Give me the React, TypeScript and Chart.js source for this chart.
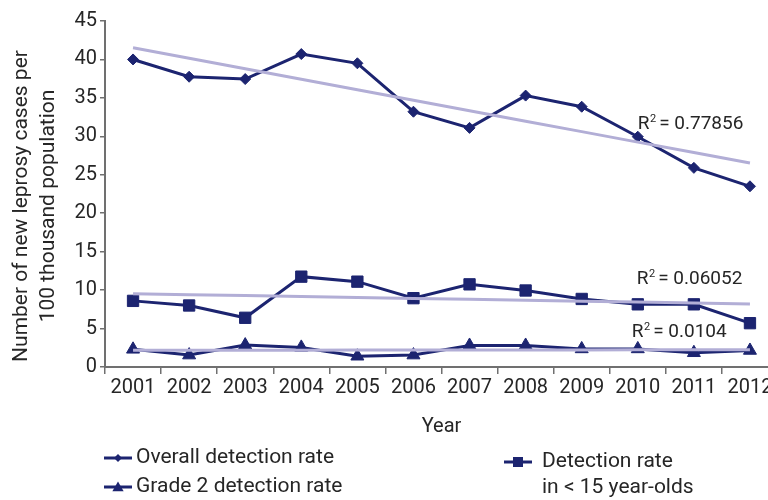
import React, { useEffect, useRef } from 'react';
import { Chart, registerables } from 'chart.js';

Chart.register(...registerables);

// Leprosy detection rates per 100 thousand population, 2001–2012
const years = ['2001', '2002', '2003', '2004', '2005', '2006', '2007', '2008', '2009', '2010', '2011', '2012'];
const overallRate = [40.0, 37.75, 37.45, 40.7, 39.5, 33.2, 31.1, 35.3, 33.85, 29.95, 25.9, 23.5];
const under15Rate = [8.6, 8.0, 6.4, 11.75, 11.1, 8.95, 10.75, 9.95, 8.85, 8.15, 8.15, 5.7];
const grade2Rate = [2.3, 1.55, 2.85, 2.55, 1.4, 1.55, 2.8, 2.8, 2.35, 2.35, 1.85, 2.15];

const yAxisMin = 0;
const yAxisMax = 45;
const yAxisStep = 5;

const yTitleLines = ['Number of new leprosy cases per', '100 thousand population'];
const xTitle = 'Year';
const rSquaredValues = ['0.77856', '0.06052', '0.0104'];

const NAVY = '#1c2470';
const LAVENDER = '#b2aed6';
const TEXT = '#262626';
const AXIS = '#707070';
const FONT = 'Roboto, "Noto Sans", sans-serif';

// Ordinary least-squares fit over the category index
function linearTrend(values: number[]): number[] {
  const n = values.length;
  const mx = (n - 1) / 2;
  const my = values.reduce((a, b) => a + b, 0) / n;
  let sxy = 0;
  let sxx = 0;
  values.forEach((v, i) => {
    sxy += (i - mx) * (v - my);
    sxx += (i - mx) * (i - mx);
  });
  const slope = sxy / sxx;
  return values.map((_, i) => my + slope * (i - mx));
}

function drawMarker(ctx: CanvasRenderingContext2D, style: string, x: number, y: number, r: number) {
  ctx.beginPath();
  if (style === 'rectRot') {
    ctx.moveTo(x - r, y);
    ctx.lineTo(x, y - r);
    ctx.lineTo(x + r, y);
    ctx.lineTo(x, y + r);
  } else if (style === 'triangle') {
    for (let k = 0; k < 3; k++) {
      const a = (k * 2 * Math.PI) / 3;
      const px = x + Math.sin(a) * r;
      const py = y - Math.cos(a) * r;
      if (k === 0) ctx.moveTo(px, py);
      else ctx.lineTo(px, py);
    }
  } else {
    ctx.rect(x - r, y - r, 2 * r, 2 * r);
  }
  ctx.closePath();
  ctx.fill();
}

const overlayPlugin = {
  id: 'overlayText',
  afterDraw(chart: any) {
    const { ctx, chartArea, scales } = chart;
    const xs = scales.x;
    const ys = scales.y;

    // rotated y-axis title, two lines
    ctx.save();
    ctx.fillStyle = TEXT;
    ctx.font = `21px ${FONT}`;
    ctx.textAlign = 'center';
    ctx.textBaseline = 'middle';
    ctx.translate(22, (chartArea.top + chartArea.bottom) / 2 + 12);
    ctx.rotate(-Math.PI / 2);
    ctx.fillText(yTitleLines[0], 0, 0);
    ctx.fillText(yTitleLines[1], 0, 27);
    ctx.restore();

    // x-axis title
    ctx.save();
    ctx.fillStyle = TEXT;
    ctx.font = `20px ${FONT}`;
    ctx.textAlign = 'center';
    ctx.textBaseline = 'middle';
    ctx.fillText(xTitle, (chartArea.left + chartArea.right) / 2, 427);
    ctx.restore();

    // R² labels next to each trend line
    const anchors = [
      { index: 9, value: 31.6, dx: 0 },
      { index: 9, value: 11.4, dx: -1 },
      { index: 9, value: 4.55, dx: -6 },
    ];
    ctx.save();
    ctx.fillStyle = TEXT;
    ctx.textBaseline = 'middle';
    ctx.textAlign = 'left';
    anchors.forEach((a, i) => {
      let x = xs.getPixelForValue(a.index) + a.dx;
      const y = ys.getPixelForValue(a.value);
      ctx.font = `19px ${FONT}`;
      ctx.fillText('R', x, y);
      x += ctx.measureText('R').width + 0.5;
      ctx.font = `11px ${FONT}`;
      ctx.fillText('2', x, y - 5);
      x += ctx.measureText('2').width + 3;
      ctx.font = `19px ${FONT}`;
      ctx.fillText('= ' + rSquaredValues[i], x, y);
    });
    ctx.restore();

    // legend
    const ds = chart.data.datasets;
    const entries = [
      { d: ds[0], x: 104, y: 458, r: 4, tx: 32, lines: [ds[0].label] },
      { d: ds[2], x: 104, y: 487, r: 6.5, tx: 32, lines: [ds[2].label] },
      { d: ds[1], x: 504, y: 462, r: 5, tx: 38, lines: ['Detection rate', 'in < 15 year-olds'] },
    ];
    ctx.save();
    entries.forEach((e) => {
      ctx.strokeStyle = e.d.borderColor;
      ctx.fillStyle = e.d.borderColor;
      ctx.lineWidth = 3;
      ctx.beginPath();
      ctx.moveTo(e.x, e.y);
      ctx.lineTo(e.x + 28, e.y);
      ctx.stroke();
      drawMarker(ctx, e.d.pointStyle, e.x + 14, e.y + (e.d.pointStyle === 'triangle' ? 1 : 0), e.r);
      ctx.fillStyle = TEXT;
      ctx.font = `21px ${FONT}`;
      ctx.textAlign = 'left';
      ctx.textBaseline = 'middle';
      e.lines.forEach((t: string, k: number) => {
        ctx.fillText(t, e.x + e.tx, e.y + k * 26);
      });
    });
    ctx.restore();
  },
};

export default function App() {
  const canvasRef = useRef<HTMLCanvasElement>(null);

  useEffect(() => {
    const canvas = canvasRef.current;
    if (!canvas) return;

    const seriesBase = {
      borderColor: NAVY,
      backgroundColor: NAVY,
      pointBackgroundColor: NAVY,
      pointBorderColor: NAVY,
      borderWidth: 3,
      pointBorderWidth: 1,
      tension: 0,
      fill: false,
      order: 1,
    };
    const trendBase = {
      borderColor: LAVENDER,
      backgroundColor: LAVENDER,
      borderWidth: 3,
      pointRadius: 0,
      tension: 0,
      fill: false,
      order: 0,
    };

    const chart = new Chart(canvas, {
      type: 'line',
      data: {
        labels: years,
        datasets: [
          { ...seriesBase, label: 'Overall detection rate', data: overallRate, pointStyle: 'rectRot', pointRadius: 5.5 },
          { ...seriesBase, label: 'Detection rate in < 15 year-olds', data: under15Rate, pointStyle: 'rect', pointRadius: 8 },
          { ...seriesBase, label: 'Grade 2 detection rate', data: grade2Rate, pointStyle: 'triangle', pointRadius: 7.5 },
          { ...trendBase, label: 'Overall trend', data: linearTrend(overallRate) },
          { ...trendBase, label: '< 15 trend', data: linearTrend(under15Rate) },
          { ...trendBase, label: 'Grade 2 trend', data: linearTrend(grade2Rate) },
        ],
      },
      options: {
        responsive: false,
        animation: false,
        devicePixelRatio: 1,
        layout: { padding: { top: 21, right: 12, left: 0, bottom: 0 } },
        plugins: {
          legend: { display: false },
          tooltip: { enabled: false },
        },
        scales: {
          x: {
            type: 'category',
            offset: true,
            grid: {
              offset: true,
              drawOnChartArea: false,
              drawTicks: true,
              tickLength: 7,
              color: AXIS,
              lineWidth: 1.5,
            },
            border: { display: true, color: AXIS, width: 2 },
            ticks: {
              color: TEXT,
              font: { family: FONT, size: 20 },
              padding: 2,
              maxRotation: 0,
              autoSkip: false,
            },
            afterFit: (s: any) => {
              s.height = 133;
            },
          },
          y: {
            min: yAxisMin,
            max: yAxisMax,
            grid: {
              drawOnChartArea: false,
              drawTicks: true,
              tickLength: 5,
              color: AXIS,
              lineWidth: 1.5,
            },
            border: { display: true, color: AXIS, width: 2 },
            ticks: {
              stepSize: yAxisStep,
              color: TEXT,
              font: { family: FONT, size: 20 },
              padding: 3,
            },
            afterFit: (s: any) => {
              s.width = 105;
            },
          },
        },
      },
      plugins: [overlayPlugin],
    } as any);

    return () => chart.destroy();
  }, []);

  return (
    <div
      style={{
        position: 'absolute',
        left: 0,
        top: 0,
        width: 768,
        height: 500,
        overflow: 'hidden',
        background: '#ffffff',
      }}
    >
      <canvas ref={canvasRef} width={790} height={500} style={{ display: 'block', width: 790, height: 500 }} />
    </div>
  );
}
